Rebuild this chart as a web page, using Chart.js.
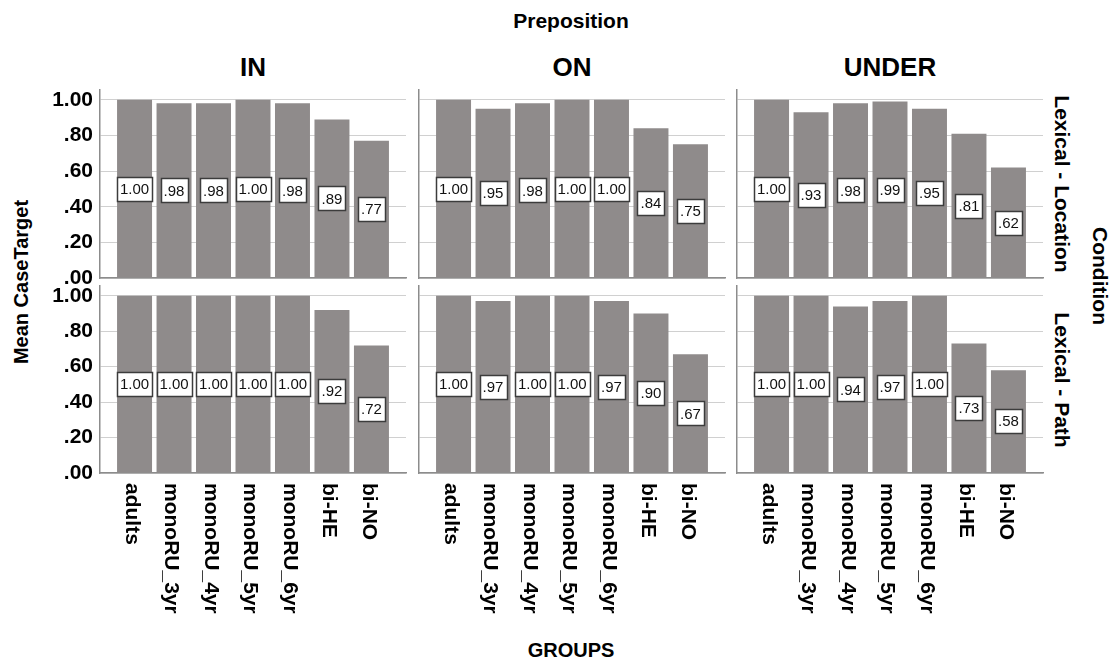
<!DOCTYPE html>
<html>
<head>
<meta charset="utf-8">
<title>Mean CaseTarget by GROUPS</title>
<script src="https://cdn.jsdelivr.net/npm/chart.js@4.4.0/dist/chart.umd.min.js"></script>
<style>
  body { margin: 0; background: #fff; }
  #wrap { position: relative; width: 1119px; height: 664px; overflow: hidden;
          font-family: "Liberation Sans", Arial, sans-serif; font-weight: bold; color: #000; }
  #wrap canvas { position: absolute; left: 0; top: 0; }
  .t { position: absolute; white-space: nowrap; line-height: 1; }
</style>
</head>
<body>
<div id="wrap">
  <div class="t" style="left:571px; top:20px; font-size:21px; transform:translate(-50%,-50%);">Preposition</div>
  <div class="t" style="left:253px; top:67px; font-size:26px; transform:translate(-50%,-50%);">IN</div>
  <div class="t" style="left:572px; top:67px; font-size:26px; transform:translate(-50%,-50%);">ON</div>
  <div class="t" style="left:890px; top:67px; font-size:26px; transform:translate(-50%,-50%);">UNDER</div>
  <div class="t" style="left:1062px; top:184px; font-size:21px; transform:translate(-50%,-50%) rotate(90deg);">Lexical - Location</div>
  <div class="t" style="left:1062px; top:380px; font-size:21px; transform:translate(-50%,-50%) rotate(90deg);">Lexical - Path</div>
  <div class="t" style="left:1100px; top:276px; font-size:21px; transform:translate(-50%,-50%) rotate(90deg);">Condition</div>
  <div class="t" style="left:21px; top:282px; font-size:20px; transform:translate(-50%,-50%) rotate(-90deg);">Mean CaseTarget</div>
  <div class="t" style="left:571px; top:650px; font-size:20px; transform:translate(-50%,-50%);">GROUPS</div>
</div>
<script>
// categories
const groups = ['adults', 'monoRU_3yr', 'monoRU_4yr', 'monoRU_5yr', 'monoRU_6yr', 'bi-HE', 'bi-NO'];
const prepositions = ['IN', 'ON', 'UNDER'];
const conditions = ['Lexical - Location', 'Lexical - Path'];

// mean CaseTarget, Lexical - Location
const locationIN    = [1.00, .98, .98, 1.00, .98, .89, .77];
const locationON    = [1.00, .95, .98, 1.00, 1.00, .84, .75];
const locationUNDER = [1.00, .93, .98, .99, .95, .81, .62];
// mean CaseTarget, Lexical - Path
const pathIN    = [1.00, 1.00, 1.00, 1.00, 1.00, .92, .72];
const pathON    = [1.00, .97, 1.00, 1.00, .97, .90, .67];
const pathUNDER = [1.00, 1.00, .94, .97, 1.00, .73, .58];

const yTicks = [0, .2, .4, .6, .8, 1.0];

const panelValues = [
  [locationIN, locationON, locationUNDER],
  [pathIN, pathON, pathUNDER]
];

// panel geometry (pixels)
const colLeft = [100, 419, 737];
const colWidth = 306;
const rowTop = [90, 286];
const rowBottom = [278, 473];
const W = 1119, H = 664;

const FONT = '"Liberation Sans", Arial, sans-serif';
const BAR = '#8f8b8b';

function fmt(v) {
  return v.toFixed(2).replace(/^0/, '');
}

// white boxes with the mean, centred at half bar height
const valueBoxes = {
  id: 'valueBoxes',
  afterDatasetsDraw(chart) {
    const ctx = chart.ctx;
    const meta = chart.getDatasetMeta(0);
    const data = chart.data.datasets[0].data;
    ctx.save();
    ctx.font = '15px ' + FONT;
    ctx.textAlign = 'center';
    ctx.textBaseline = 'middle';
    meta.data.forEach((bar, i) => {
      const txt = fmt(data[i].y);
      const w = Math.round(ctx.measureText(txt).width + 6);
      const h = 24;
      const cy = (bar.y + bar.base) / 2;
      const x0 = Math.round(bar.x - w / 2) + 0.5;
      const y0 = Math.round(cy - h / 2) + 0.5;
      ctx.fillStyle = '#fff';
      ctx.fillRect(x0, y0, w, h);
      ctx.lineWidth = 1.5;
      ctx.strokeStyle = '#3c3c3c';
      ctx.strokeRect(x0, y0, w, h);
      ctx.fillStyle = '#111';
      ctx.fillText(txt, bar.x, cy + 1);
    });
    ctx.restore();
  }
};

// group names under the bottom row, reading top to bottom
const groupLabels = {
  id: 'groupLabels',
  afterDraw(chart, args, opts) {
    if (!opts.show) return;
    const xs = chart.scales.x;
    const ctx = chart.ctx;
    ctx.save();
    ctx.font = 'bold 21px ' + FONT;
    ctx.fillStyle = '#000';
    ctx.textAlign = 'left';
    ctx.textBaseline = 'middle';
    groups.forEach((g, i) => {
      ctx.save();
      ctx.translate(xs.getPixelForValue(i) - 3, xs.bottom + 10);
      ctx.rotate(Math.PI / 2);
      ctx.fillText(g, 0, 0);
      ctx.restore();
    });
    ctx.restore();
  }
};

const wrap = document.getElementById('wrap');

conditions.forEach((cond, r) => {
  prepositions.forEach((prep, c) => {
    const values = panelValues[r][c];
    const canvas = document.createElement('canvas');
    canvas.width = W;
    canvas.height = H;
    wrap.appendChild(canvas);

    // the left column keeps room for its tick labels inside the y scale
    const yWidth = c === 0 ? colLeft[0] : 0;

    new Chart(canvas, {
      type: 'bar',
      data: {
        datasets: [{
          label: prep + ' / ' + cond,
          data: values.map((v, i) => ({ x: i, y: v })),
          backgroundColor: BAR,
          borderWidth: 0,
          barPercentage: 0.886,
          categoryPercentage: 1
        }]
      },
      options: {
        responsive: false,
        animation: false,
        layout: {
          padding: {
            left: colLeft[c] - yWidth,
            right: W - colLeft[c] - colWidth,
            top: rowTop[r],
            bottom: H - rowBottom[r]
          }
        },
        plugins: {
          legend: { display: false },
          tooltip: { enabled: false },
          groupLabels: { show: r === 1 }
        },
        scales: {
          x: {
            type: 'linear',
            offset: false,
            bounds: 'data',
            min: -0.875,
            max: groups.length - 1 + 0.875,
            afterBuildTicks(s) { s.ticks = groups.map((g, i) => ({ value: i })); },
            afterFit(s) { s.height = 0; },
            grid: { display: false, offset: false },
            border: { display: true, color: '#8c8c8c', width: 1.5 },
            ticks: { display: false }
          },
          y: {
            min: 0,
            max: 1.055,
            afterBuildTicks(s) { s.ticks = yTicks.map(v => ({ value: v })); },
            afterFit(s) { s.width = yWidth; },
            grid: { color: '#d0d0d0', lineWidth: 1, drawTicks: false },
            border: { display: true, color: '#8c8c8c', width: 1.5 },
            ticks: {
              display: c === 0,
              autoSkip: false,
              padding: 7,
              color: '#000',
              font: { family: FONT, size: 21, weight: 'bold' },
              callback: v => fmt(v)
            }
          }
        }
      },
      plugins: [valueBoxes, groupLabels]
    });
  });
});
</script>
</body>
</html>
